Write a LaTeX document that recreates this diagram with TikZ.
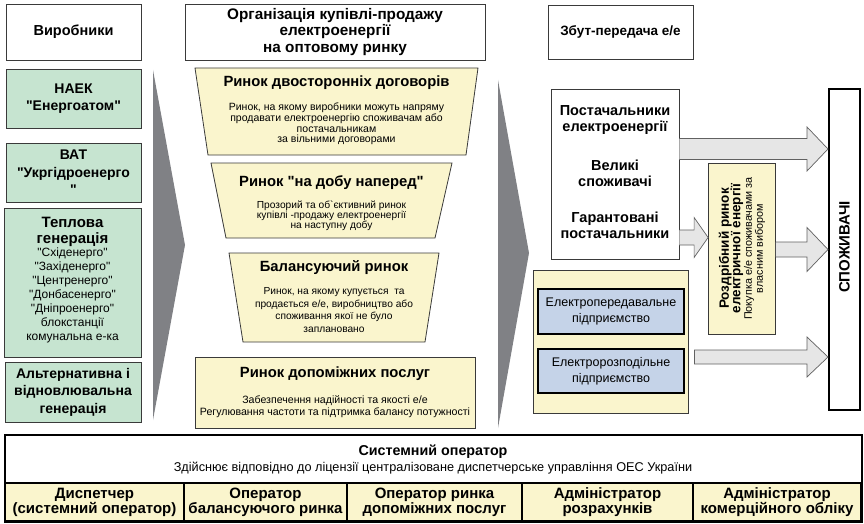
\documentclass[tikz,border=0pt]{standalone}
\usepackage{fontspec}
\setmainfont{Liberation Sans}[Ligatures=TeXOff]
\usetikzlibrary{calc}
\definecolor{genfill}{HTML}{C6E4D0}
\definecolor{yel}{HTML}{FAF5CD}
\definecolor{blu}{HTML}{C5D3E8}
\definecolor{gry}{HTML}{808185}
\definecolor{arrfill}{HTML}{E6E6E6}
\definecolor{edge}{HTML}{3A3A3A}
\newcommand\fatarr[5]{%
  \draw[fatarrow] ($(#1)+(0,-#3)$) -- ($(#2)+(-#5,-#3)$) -- ($(#2)+(-#5,-#4)$) -- (#2)
    -- ($(#2)+(-#5,#4)$) -- ($(#2)+(-#5,#3)$) -- ($(#1)+(0,#3)$);}
\tikzset{
  box/.style={draw=edge, line width=0.8pt, fill=white, inner sep=0pt, align=center},
  genbox/.style={box, fill=genfill},
  bigb/.style={font=\bfseries\fontsize{14}{17.5}\selectfont},
  titleb/.style={font=\bfseries\fontsize{14.8}{16}\selectfont, align=center, inner sep=0pt},
  bodyt/.style={align=center, inner sep=0pt},
  trap/.style={draw=edge, line width=0.8pt, fill=yel},
  greyshape/.style={fill=gry, draw=none},
  fatarrow/.style={draw=edge!80, line width=0.7pt, fill=arrfill},
  thickbox/.style={draw=black, line width=2pt, inner sep=0pt, align=center},
  cell/.style={draw=black, line width=1.5pt, fill=yel, inner sep=0pt, align=center,
    minimum height=38pt, font=\bfseries\fontsize{15}{15}\selectfont},
}
\begin{document}
\begin{tikzpicture}[x=1pt,y=-1pt]
\useasboundingbox (0,0) rectangle (864,524);
% grey flow shapes
\fill[greyshape] (153,70) -- (185,245) -- (153,420) -- cycle;
\fill[greyshape] (498,80) -- (529,253) -- (498,428) -- cycle;
% left column
\node[box, font=\bfseries\fontsize{14.5}{17}\selectfont, minimum width=135pt, minimum height=56pt] (vyr) at (73.5,32) {Виробники};
\node[genbox, bigb, minimum width=135pt, minimum height=59pt] (naek) at (73.5,98.5) {НАЕК\\"Енергоатом"};
\node[genbox, bigb, minimum width=135pt, minimum height=59pt] (vat) at (73.5,172.5) {ВАТ\\"Укргідроенерго\\"};
\node[genbox, minimum width=137pt, minimum height=149pt] (tepl) at (72.5,282.5) {};
\node[bodyt, text width=135pt] (tepltxt) at (72.5,280) {{\bfseries\fontsize{15}{15.5}\selectfont Теплова\\генерація\par}{\fontsize{12}{13.9}\selectfont "Східенерго"\\"Західенерго"\\"Центренерго"\\"Донбасенерго"\\"Дніпроенерго"\\блокстанції\\комунальна е-ка\par}};
\node[genbox, bigb, minimum width=136pt, minimum height=60pt] (alt) at (73,392) {Альтернативна і\\відновлювальна\\генерація};
% middle column
\node[box, font=\bfseries\fontsize{15.3}{16.5}\selectfont, minimum width=300pt, minimum height=56pt] (org) at (335,32) {Організація купівлі-продажу\\електроенергії\\на оптовому ринку};
\draw[trap] (195,68) -- (478,68) -- (466,155) -- (208,155) -- cycle;
\node[titleb] (t1) at (336.5,83) {Ринок двосторонніх договорів};
\node[bodyt, font=\fontsize{10.5}{10.7}\selectfont] (b1) at (336.5,124) {Ринок, на якому виробники можуть напряму\\продавати електроенергію споживачам або\\постачальникам\\за вільними договорами};
\draw[trap] (211,163) -- (452,163) -- (435,238) -- (226,238) -- cycle;
\node[titleb] (t2) at (331.5,183) {Ринок "на добу наперед"};
\node[bodyt, font=\fontsize{10.2}{10.2}\selectfont] (b2) at (331.5,216) {Прозорий та об`єктивний ринок\\купівлі -продажу електроенергії\\на наступну добу};
\draw[trap] (229,253) -- (439,253) -- (425,342) -- (243,342) -- cycle;
\node[titleb] (t3) at (334,268) {Балансуючий ринок};
\node[bodyt, font=\fontsize{10.2}{12.6}\selectfont] (b3) at (334,310) {Ринок, на якому купується~ та\\продається е/е, виробництво або\\споживання якої не було\\заплановано};
\draw[trap] (195,357) rectangle (475,428);
\node[titleb] (t4) at (335,374) {Ринок допоміжних послуг};
\node[bodyt, font=\fontsize{10.6}{12}\selectfont] (b4) at (335,407) {Забезпечення надійності та якості е/е\\Регулювання частоти та підтримка балансу потужності};
% right column
\node[box, font=\bfseries\fontsize{13.5}{15}\selectfont, minimum width=145pt, minimum height=54pt] (zbut) at (620.5,32) {Збут-передача е/е};
\node[box, minimum width=128pt, minimum height=170pt] (post) at (615,174) {};
\node[titleb, font=\bfseries\fontsize{14.5}{16}\selectfont] (p1) at (615,120) {Постачальники\\електроенергії};
\node[titleb, font=\bfseries\fontsize{14.5}{16}\selectfont] (p2) at (615,173.5) {Великі\\споживачі};
\node[titleb, font=\bfseries\fontsize{14.5}{16}\selectfont] (p3) at (615,225.5) {Гарантовані\\постачальники};
\node[box, fill=yel, minimum width=155pt, minimum height=143pt] (cont) at (610.5,341.5) {};
\node[thickbox, fill=blu, minimum width=146pt, minimum height=45pt, font=\fontsize{12.5}{16}\selectfont] (ep) at (611,311.5) {Електропередавальне\\підприємство};
\node[thickbox, fill=blu, minimum width=146pt, minimum height=44pt, font=\fontsize{12.5}{16}\selectfont] (er) at (611,371) {Електророзподільне\\підприємство};
\node[box, fill=yel, minimum width=67pt, minimum height=171pt] (retail) at (742,248.5) {};
\node[bodyt, rotate=90] (rtxt) at (742,248.5) {{\bfseries\fontsize{13.5}{13}\selectfont Роздрібний ринок}\\[-2pt]{\bfseries\fontsize{13.5}{13}\selectfont електричної енергії}\\[-0.5pt]{\fontsize{10.8}{11}\selectfont Покупка е/е споживачами за}\\[-1pt]{\fontsize{10.8}{11}\selectfont власним вибором}};
\node[thickbox, fill=white, minimum width=31pt, minimum height=321pt] (spoz) at (844.5,249.5) {};
\node[bodyt, rotate=90, font=\bfseries\fontsize{15}{16}\selectfont] (spoztxt) at (844.5,247) {СПОЖИВАЧІ};
% fat arrows
\coordinate (a1s) at (post.east |- 0,149);
\coordinate (a1e) at (spoz.west |- 0,149);
\fatarr{a1s}{a1e}{10.5}{22}{21}
\coordinate (a2s) at (post.east |- 0,237.5);
\coordinate (a2e) at (retail.west |- 0,237.5);
\fatarr{a2s}{a2e}{7.5}{20}{14}
\coordinate (a3s) at (retail.east |- 0,249.5);
\coordinate (a3e) at (spoz.west |- 0,249.5);
\fatarr{a3s}{a3e}{7.5}{22}{21}
\coordinate (a4s) at (694,357);
\coordinate (a4e) at (spoz.west |- 0,357);
\fatarr{a4s}{a4e}{7}{20}{21}
\draw[fatarrow] ($(a4s)+(0,-7)$) -- ($(a4s)+(0,7)$);
% bottom system operator
\node[inner sep=0pt, minimum width=856pt, minimum height=48pt, fill=white] (so) at (433,459) {};
\node[titleb, font=\bfseries\fontsize{14.3}{15}\selectfont] (sot) at (433,452) {Системний оператор};
\node[bodyt, font=\fontsize{12.7}{13}\selectfont] (sos) at (433,468) {Здійснює відповідно до ліцензії централізоване диспетчерське управління ОЕС України};
\node[cell, minimum width=179pt] (c1) at (94.5,502) {Диспетчер\\(системний оператор)};
\node[cell, minimum width=163pt] (c2) at (265.5,502) {Оператор\\балансуючого ринка};
\node[cell, minimum width=175pt] (c3) at (434.5,502) {Оператор ринка\\допоміжних послуг};
\node[cell, minimum width=171pt] (c4) at (607.5,502) {Адміністратор\\розрахунків};
\node[cell, minimum width=168pt] (c5) at (777,502) {Адміністратор\\комерційного обліку};
\draw[black, line width=2pt] (so.north west) rectangle (c5.south east);
\draw[black, line width=2pt] (so.south west) -- (so.south east);
\end{tikzpicture}
\end{document}
